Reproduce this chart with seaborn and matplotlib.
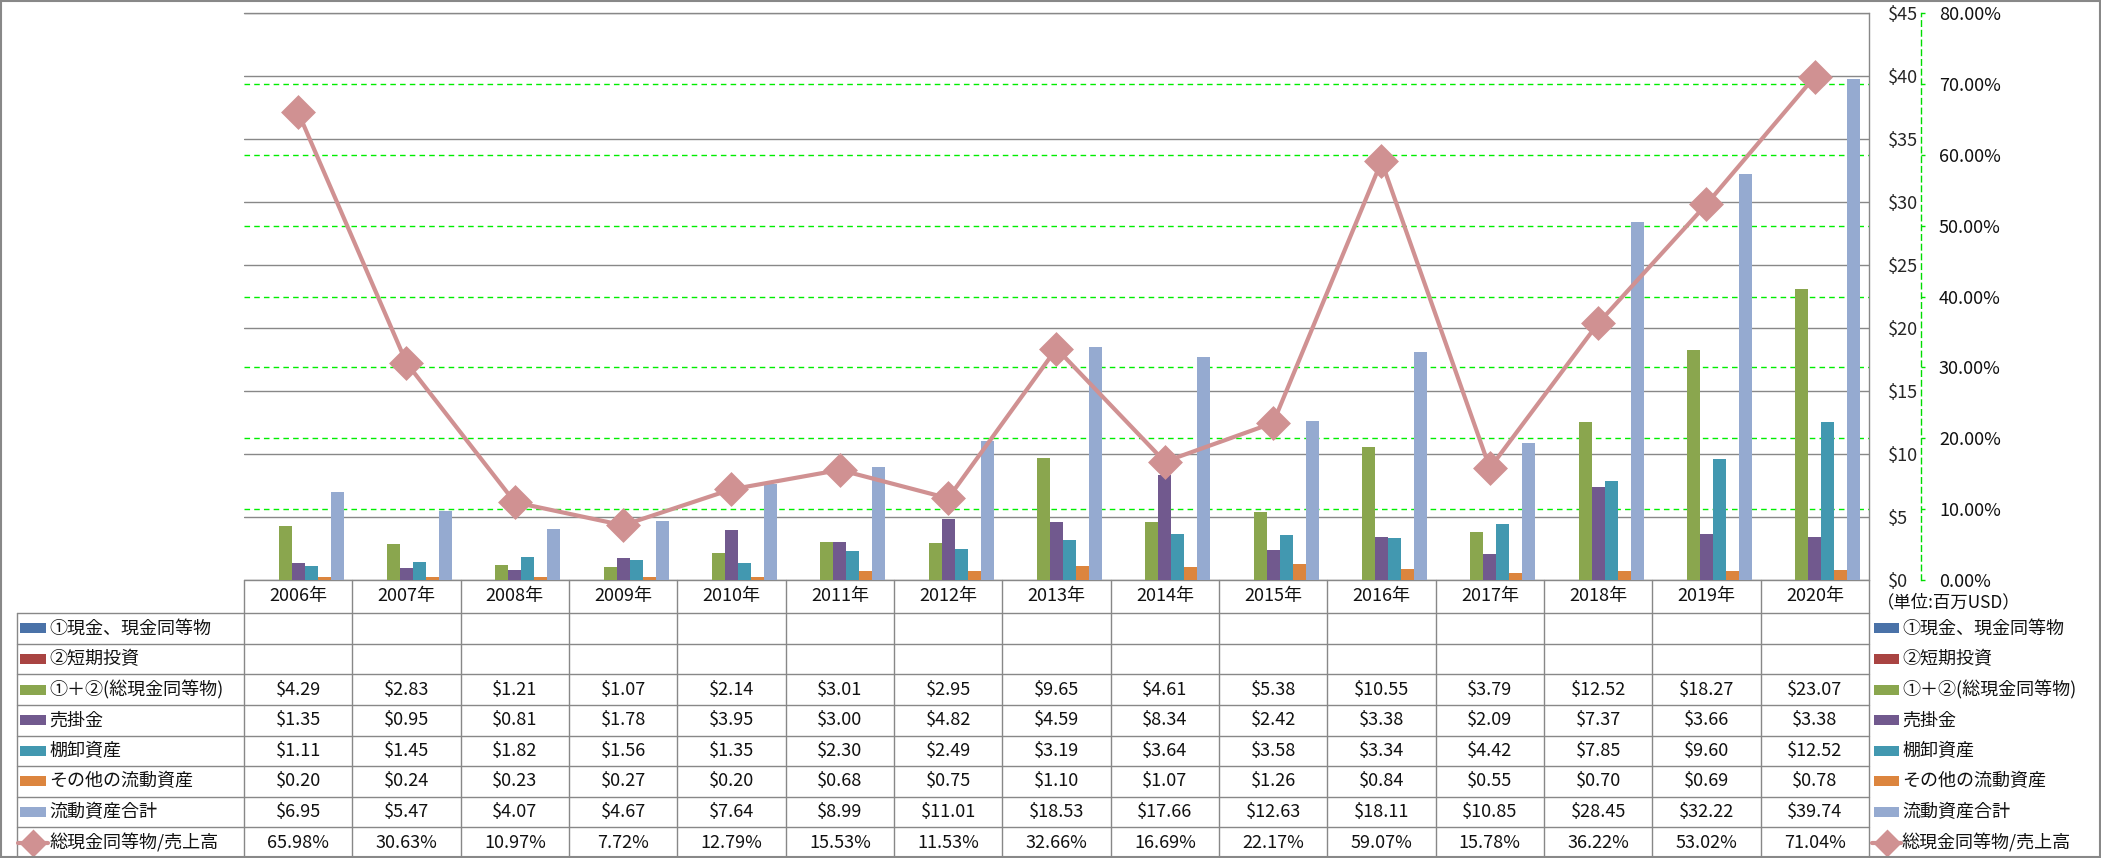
import numpy as np
import pandas as pd
import matplotlib
matplotlib.use("Agg")
import matplotlib.pyplot as plt
from matplotlib.patches import Rectangle
from matplotlib.lines import Line2D
import seaborn as sns

# ---------------- data ----------------
years = ["2006年", "2007年", "2008年", "2009年", "2010年", "2011年", "2012年", "2013年",
         "2014年", "2015年", "2016年", "2017年", "2018年", "2019年", "2020年"]
series_names = ["①現金、現金同等物", "②短期投資", "①＋②(総現金同等物)", "売掛金",
                "棚卸資産", "その他の流動資産", "流動資産合計"]
line_name = "総現金同等物/売上高"

cash_eq = [np.nan] * 15
short_inv = [np.nan] * 15
cash_total = [4.29, 2.83, 1.21, 1.07, 2.14, 3.01, 2.95, 9.65, 4.61, 5.38, 10.55, 3.79, 12.52, 18.27, 23.07]
receivables = [1.35, 0.95, 0.81, 1.78, 3.95, 3.00, 4.82, 4.59, 8.34, 2.42, 3.38, 2.09, 7.37, 3.66, 3.38]
inventory = [1.11, 1.45, 1.82, 1.56, 1.35, 2.30, 2.49, 3.19, 3.64, 3.58, 3.34, 4.42, 7.85, 9.60, 12.52]
other_ca = [0.20, 0.24, 0.23, 0.27, 0.20, 0.68, 0.75, 1.10, 1.07, 1.26, 0.84, 0.55, 0.70, 0.69, 0.78]
total_ca = [6.95, 5.47, 4.07, 4.67, 7.64, 8.99, 11.01, 18.53, 17.66, 12.63, 18.11, 10.85, 28.45, 32.22, 39.74]
cash_ratio = [65.98, 30.63, 10.97, 7.72, 12.79, 15.53, 11.53, 32.66, 16.69, 22.17, 59.07, 15.78, 36.22, 53.02, 71.04]

bar_values = [cash_eq, short_inv, cash_total, receivables, inventory, other_ca, total_ca]
bar_colors = ["#4A72A8", "#A94442", "#8AA64E", "#71598E", "#4298B0", "#DC853E", "#95AAD0"]
line_color = "#D09192"
usd_ticks = [0, 5, 10, 15, 20, 25, 30, 35, 40, 45]
pct_ticks = [0, 10, 20, 30, 40, 50, 60, 70, 80]
unit_note = "（単位:百万USD）"

# ---------------- style ----------------
sns.set_style("white")
plt.rcParams["font.family"] = ["Noto Sans CJK JP", "DejaVu Sans"]
plt.rcParams["text.color"] = "#111111"

W, H = 2101, 858
DPI = 100
fig = plt.figure(figsize=(W / DPI, H / DPI), dpi=DPI)
fig.patch.set_facecolor("white")

PX0, PX1, PY0, PY1 = 244, 1869, 13, 580   # plot area (pixels, from top)
ax = fig.add_axes([PX0 / W, 1 - PY1 / H, (PX1 - PX0) / W, (PY1 - PY0) / H])
ax.patch.set_visible(False)

grid_grey = "#888888"
fs = 13

# bars
rows = []
for name, vals in zip(series_names, bar_values):
    for y, v in zip(years, vals):
        rows.append({"year": y, "series": name, "value": 0.0 if np.isnan(v) else v})
df = pd.DataFrame(rows)
sns.barplot(data=df, x="year", y="value", hue="series", hue_order=series_names,
            order=years, palette=bar_colors, width=0.84, gap=0, saturation=1,
            errorbar=None, linewidth=0, legend=False, ax=ax, zorder=3)

# secondary axis
ax2 = ax.twinx()
sns.lineplot(x=np.arange(len(years)), y=cash_ratio, ax=ax2, color=line_color,
             linewidth=3.0, marker="D", markersize=15, markeredgewidth=2.5,
             markeredgecolor=line_color, markerfacecolor=line_color, zorder=5)

ax.set_xlim(-0.5, len(years) - 0.5)
ax.set_ylim(0, 45)
ax.set_yticks(usd_ticks)
ax.set_yticklabels([f"${t}" for t in usd_ticks])
ax.yaxis.tick_right()
ax.yaxis.set_label_position("right")
ax.tick_params(axis="y", which="both", left=False, right=False, labelleft=False,
               labelright=True, length=0, pad=13.5, labelsize=fs)
ax.set_xticks([])
ax.set_xlabel("")
ax.set_ylabel("")
for s in ["left", "top", "bottom"]:
    ax.spines[s].set_visible(False)
ax.spines["right"].set_visible(True)
ax.spines["right"].set_color(grid_grey)
ax.spines["right"].set_linewidth(1.0)
ax.set_axisbelow(True)
ax.grid(axis="y", color=grid_grey, linewidth=1.0, zorder=0)

ax2.set_ylim(0, 80)
ax2.set_yticks(pct_ticks)
ax2.set_yticklabels([f"{t:.2f}%" for t in pct_ticks])
ax2.set_xlim(-0.5, len(years) - 0.5)
ax2.set_xlabel("")
ax2.set_ylabel("")
for s in ["left", "top", "bottom"]:
    ax2.spines[s].set_visible(False)
ax2.spines["right"].set_position(("outward", 37.4))
ax2.spines["right"].set_color("#00DD00")
ax2.spines["right"].set_linestyle((0, (4, 3)))
ax2.spines["right"].set_linewidth(1.0)
ax2.tick_params(axis="y", colors="#00DD00", labelcolor="#111111", length=3,
                width=1, pad=10, labelsize=fs)
ax2.grid(False)
# green dashed gridlines for the secondary axis drawn behind the bars
for t in pct_ticks[1:-1]:
    ax.axhline(t * 45 / 80, color="#00EE00", linestyle=(0, (4, 3)), linewidth=1.0, zorder=1)

# ---------------- data table ----------------
tab = fig.add_axes([0, 0, 1, 1], zorder=-1)
tab.set_xlim(0, W)
tab.set_ylim(H, 0)
tab.axis("off")

ncol = len(years)
cw = (PX1 - PX0) / ncol
TX0 = 17
hdr_top, hdr_bot = PY1, 613
rh = (H - hdr_bot) / 8.0
line_kw = dict(color=grid_grey, linewidth=1.0)

tab.plot([PX0, PX1], [PY0, PY0], **line_kw)
tab.plot([PX0, PX1], [hdr_top, hdr_top], **line_kw)
for i in range(9):
    yy = hdr_bot + i * rh
    tab.plot([TX0, PX1], [yy, yy], **line_kw)
tab.plot([TX0, TX0], [hdr_bot, H], **line_kw)
for k in range(ncol + 1):
    xx = PX0 + k * cw
    tab.plot([xx, xx], [hdr_top, H], **line_kw)

for k, y in enumerate(years):
    tab.text(PX0 + (k + 0.5) * cw, (hdr_top + hdr_bot) / 2, y, ha="center", va="center", fontsize=fs)

all_rows = list(zip(series_names, bar_values, bar_colors)) + [(line_name, cash_ratio, line_color)]
for r, (name, vals, col) in enumerate(all_rows):
    yc = hdr_bot + (r + 0.5) * rh
    is_line = r == len(all_rows) - 1
    for kx0, kx1, tx in [(20, 46, 49), (1874, 1899, 1902)]:
        if is_line:
            tab.add_line(Line2D([kx0 - 2, kx1 + 2], [yc, yc], color=col, linewidth=3.0))
            tab.plot([(kx0 + kx1) / 2], [yc], marker="D", markersize=12, color=col,
                     markeredgewidth=2, markeredgecolor=col)
        else:
            tab.add_patch(Rectangle((kx0, yc - 5), kx1 - kx0, 10, facecolor=col, edgecolor="none"))
        tab.text(tx, yc, name, ha="left", va="center", fontsize=fs)
    for k, v in enumerate(vals):
        if np.isnan(v):
            continue
        txt = f"{v:.2f}%" if is_line else f"${v:.2f}"
        tab.text(PX0 + (k + 0.5) * cw, yc, txt, ha="center", va="center", fontsize=fs)

tab.text(1877, 602, unit_note, ha="left", va="center", fontsize=12.5)

fig.patches.append(Rectangle((0.0005, 0.001), 0.999, 0.998, transform=fig.transFigure,
                             fill=False, edgecolor=grid_grey, linewidth=1.5))

fig.savefig("out.png", dpi=DPI, facecolor="white")
